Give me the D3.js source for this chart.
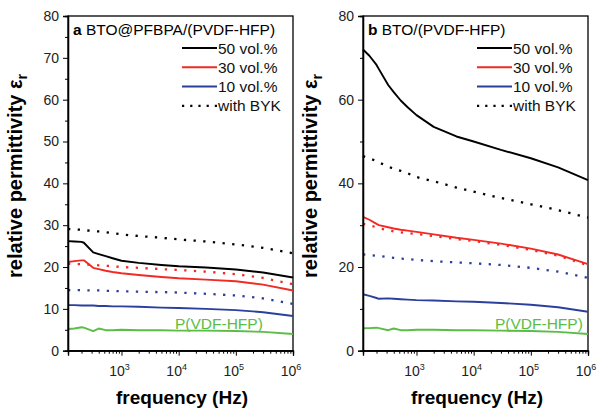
<!DOCTYPE html>
<html>
<head>
<meta charset="utf-8">
<script src="https://cdn.jsdelivr.net/npm/d3@7"></script>
<style>
  body { margin: 0; background: #fff; }
  svg { display: block; font-family: "Liberation Sans", Arial, sans-serif; }
</style>
</head>
<body>
<svg id="chart" width="597" height="411"></svg>
<script>
// frequency points (Hz), shared by all curves
var freqs = [116, 150, 200, 220, 320, 400, 530, 700, 1e3, 2e3, 5e3, 1e4, 3e4, 1e5, 3e5, 1e6];

// panel a : BTO@PFBPA/(PVDF-HFP)
var blackA    = [26.2, 26.1, 26.0, 25.8, 23.5, 23.1, 22.6, 22.1, 21.5, 21.0, 20.5, 20.2, 19.9, 19.4, 18.7, 17.5];
var redA      = [21.2, 21.4, 21.6, 21.6, 19.8, 19.5, 19.1, 18.8, 18.5, 18.1, 17.6, 17.3, 17.0, 16.6, 15.8, 14.4];
var blueA     = [10.9, 10.9, 10.8, 10.8, 10.8, 10.7, 10.7, 10.6, 10.6, 10.5, 10.3, 10.2, 10.0, 9.7, 9.2, 8.3];
var blackDotA = [29.1, 29.0, 28.9, 28.8, 28.6, 28.5, 28.3, 28.1, 27.8, 27.4, 27.0, 26.6, 26.1, 25.4, 24.6, 23.3];
var redDotA   = [20.8, 20.7, 20.7, 20.6, 20.5, 20.4, 20.3, 20.2, 20.0, 19.8, 19.5, 19.3, 18.9, 18.3, 17.4, 15.9];
var blueDotA  = [14.5, 14.5, 14.5, 14.4, 14.4, 14.4, 14.3, 14.3, 14.2, 14.1, 14.0, 13.9, 13.6, 13.2, 12.5, 11.2];
var greenA    = [5.2, 5.3, 5.6, 5.5, 4.7, 5.3, 4.9, 4.9, 5.0, 4.9, 4.9, 4.8, 4.8, 4.7, 4.5, 4.0];

// panel b : BTO/(PVDF-HFP)
var blackB    = [72.0, 70.5, 68.3, 67.3, 63.5, 61.8, 59.8, 58.2, 56.3, 53.5, 51.2, 50.0, 48.0, 46.0, 43.8, 40.8];
var redB      = [32.0, 31.3, 30.3, 30.0, 29.5, 29.2, 28.9, 28.7, 28.4, 27.8, 27.0, 26.5, 25.6, 24.4, 23.0, 20.7];
var blueB     = [13.5, 13.1, 12.6, 12.4, 12.5, 12.4, 12.3, 12.2, 12.1, 12.0, 11.8, 11.7, 11.4, 11.0, 10.4, 9.3];
var blackDotB = [46.5, 46.0, 45.3, 45.0, 44.0, 43.5, 43.0, 42.4, 41.5, 40.5, 39.0, 38.0, 36.5, 35.0, 33.6, 31.8];
var redDotB   = [30.3, 30.0, 29.5, 29.3, 28.8, 28.5, 28.3, 28.1, 27.9, 27.4, 26.7, 26.2, 25.3, 24.1, 22.7, 20.4];
var blueDotB  = [23.0, 22.9, 22.7, 22.6, 22.4, 22.2, 22.0, 21.9, 21.7, 21.4, 21.1, 20.9, 20.5, 19.8, 18.9, 17.4];
var greenB    = [5.35, 5.4, 5.5, 5.4, 4.9, 5.3, 4.9, 4.9, 5.0, 5.0, 4.9, 4.9, 4.8, 4.7, 4.5, 4.0];

var legendLabels = ['50 vol.%', '30 vol.%', '10 vol.%', 'with BYK'];
var xTickExp = [3, 4, 5, 6];

var colors = { black: '#000000', red: '#f22a23', blue: '#2b3f9c', green: '#5bbd45' };

var svg = d3.select('#chart');

function drawPanel(opt) {
	var x = d3.scaleLog().domain([116, 1e6]).range([opt.left, opt.left + 225]);
	var y = d3.scaleLinear().domain([0, 80]).range([350.7, 16]);
	var g = svg.append('g');

	// box
	g.append('rect')
		.attr('x', opt.left).attr('y', 16)
		.attr('width', 225).attr('height', 334.7)
		.attr('fill', 'none').attr('stroke', '#000').attr('stroke-width', 1.3);

	// curves
	var line = d3.line().x(function (d) { return x(d.f); }).y(function (d) { return y(d.v); });
	opt.series.forEach(function (s) {
		var pts = freqs.map(function (f, i) { return {f: f, v: s.values[i]}; });
		var p = g.append('path')
			.attr('d', line(pts))
			.attr('fill', 'none')
			.attr('stroke', s.color)
			.attr('stroke-linejoin', 'round');
		if (s.dotted) {
			p.attr('stroke-width', 2.3).attr('stroke-dasharray', '2.3,7.4').attr('stroke-linecap', 'butt');
		} else {
			p.attr('stroke-width', 1.9);
		}
	});

	// y axis, major + minor in separate groups (otherwise the 2nd call eats the 1st)
	var yMaj = g.append('g').attr('transform', 'translate(' + opt.left + ',0)')
		.call(d3.axisLeft(y).tickValues(opt.yMajor).tickSize(5).tickPadding(4).tickFormat(d3.format('d')));
	g.append('g').attr('transform', 'translate(' + opt.left + ',0)')
		.call(d3.axisLeft(y).tickValues(opt.yMinor).tickSize(3).tickFormat(''));
	g.selectAll('.domain').attr('stroke-width', 1.3);
	yMaj.selectAll('text').attr('font-size', 14).attr('fill', '#222').attr('font-family', '"Liberation Sans", Arial, sans-serif');

	// x axis
	var minor = [];
	for (var e = 2; e < 6; e++) for (var m = 2; m < 10; m++) minor.push(m * Math.pow(10, e));
	minor = minor.filter(function (f) { return f > 116; });
	g.append('g').attr('transform', 'translate(0,350.7)')
		.call(d3.axisBottom(x).tickValues(xTickExp.map(function (k) { return Math.pow(10, k); })).tickSize(5).tickFormat(''));
	g.append('g').attr('transform', 'translate(0,350.7)')
		.call(d3.axisBottom(x).tickValues(minor).tickSize(3).tickFormat(''));
	g.selectAll('.domain').attr('stroke-width', 1.3);

	xTickExp.forEach(function (k) {
		var t = g.append('text')
			.attr('x', x(Math.pow(10, k)) - 2).attr('y', 376)
			.attr('text-anchor', 'middle').attr('font-size', 14).attr('fill', '#222');
		t.append('tspan').text('10');
		t.append('tspan').attr('font-size', 9).attr('dy', -6).text(k);
	});

	// axis titles
	g.append('text')
		.attr('x', opt.left + 114).attr('y', 404)
		.attr('text-anchor', 'middle').attr('font-size', 19).attr('font-weight', 'bold')
		.text('frequency (Hz)');

	var yt = g.append('text')
		.attr('transform', 'translate(' + (opt.left - 46) + ',176) rotate(-90)')
		.attr('text-anchor', 'middle').attr('font-size', 20).attr('font-weight', 'bold');
	yt.append('tspan').text('relative permittivity \u03b5');
	yt.append('tspan').attr('font-size', 14).attr('dy', 5).text('r');

	// panel title
	var tt = g.append('text').attr('x', opt.left + 5).attr('y', 35).attr('font-size', 15.5);
	tt.append('tspan').attr('font-weight', 'bold').text(opt.letter);
	tt.append('tspan').text(' ' + opt.title);

	// legend
	var lg = [colors.black, colors.red, colors.blue, colors.black];
	legendLabels.forEach(function (lab, i) {
		var ly = 48 + i * 19.3;
		g.append('line')
			.attr('x1', opt.left + 114).attr('x2', opt.left + 149)
			.attr('y1', ly).attr('y2', ly)
			.attr('stroke', lg[i])
			.attr('stroke-width', i === 3 ? 2.2 : 2)
			.attr('stroke-dasharray', i === 3 ? '2.2,6' : null);
		g.append('text')
			.attr('x', opt.left + 150).attr('y', ly + 5.5)
			.attr('font-size', 15.5).attr('fill', '#111')
			.text(lab);
	});

	// P(VDF-HFP) label
	g.append('text')
		.attr('x', opt.greenX).attr('y', 329)
		.attr('font-size', 15.5).attr('fill', colors.green)
		.text('P(VDF-HFP)');
}

drawPanel({
	left: 68, letter: 'a', title: 'BTO@PFBPA/(PVDF-HFP)',
	yMajor: d3.range(0, 81, 10), yMinor: d3.range(5, 80, 10), greenX: 175,
	series: [
		{values: blackDotA, color: colors.black, dotted: true},
		{values: redDotA, color: colors.red, dotted: true},
		{values: blueDotA, color: colors.blue, dotted: true},
		{values: blackA, color: colors.black},
		{values: redA, color: colors.red},
		{values: blueA, color: colors.blue},
		{values: greenA, color: colors.green}
	]
});

drawPanel({
	left: 363, letter: 'b', title: 'BTO/(PVDF-HFP)',
	yMajor: d3.range(0, 81, 20), yMinor: d3.range(10, 80, 20), greenX: 495,
	series: [
		{values: blackDotB, color: colors.black, dotted: true},
		{values: redDotB, color: colors.red, dotted: true},
		{values: blueDotB, color: colors.blue, dotted: true},
		{values: blackB, color: colors.black},
		{values: redB, color: colors.red},
		{values: blueB, color: colors.blue},
		{values: greenB, color: colors.green}
	]
});
</script>
</body>
</html>
